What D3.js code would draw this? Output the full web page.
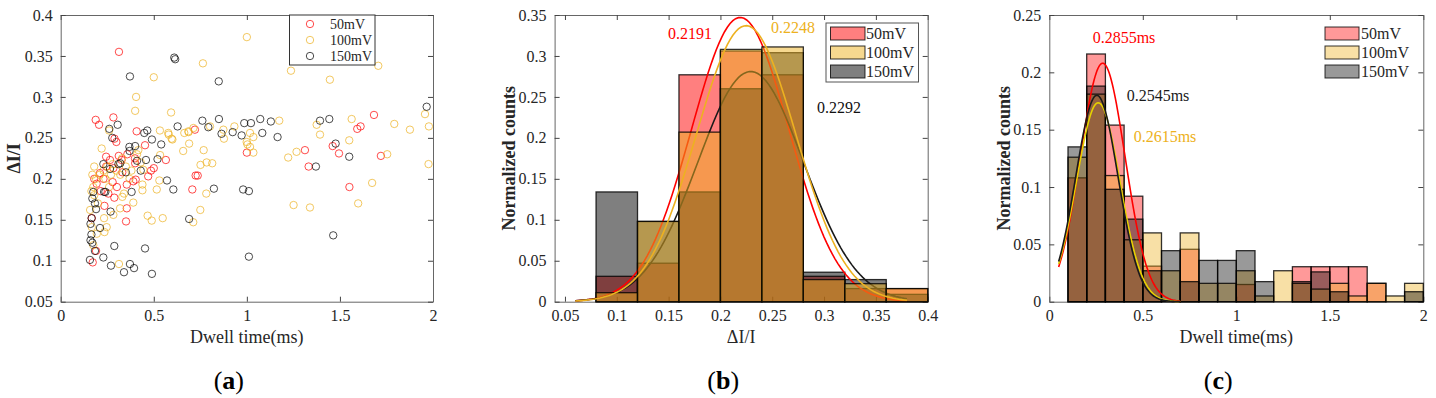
<!doctype html>
<html>
<head>
<meta charset="utf-8">
<script src="https://d3js.org/d3.v7.min.js"></script>
<style>
  body { margin: 0; background: #fff; }
  svg, svg text { font-family: "Liberation Serif", "Times New Roman", serif; }
  .tick text { fill: #262626; font-size: 16px; }
  .tick line { stroke: #444; }
  .domain { stroke: #666; }
</style>
</head>
<body>
<script>
// ---------- panel (a): scatter, [dwell time ms, dI/I] ----------
var scat50 = [[0.313,0.355],[0.188,0.272],[0.206,0.266],[0.283,0.275],[0.289,0.249],[0.299,0.245],[0.408,0.258],[0.453,0.241],
  [0.399,0.225],[0.327,0.223],[0.485,0.210],[0.500,0.213],[0.565,0.223],[0.470,0.203],[0.390,0.197],[0.725,0.204],[0.721,0.260],
  [0.736,0.204],[0.707,0.187],[1.000,0.232],[1.312,0.235],[1.332,0.215],[1.461,0.240],[1.495,0.231],[1.593,0.261],[1.611,0.264],
  [1.683,0.278],[1.720,0.228],[1.551,0.190],[0.256,0.182],[0.288,0.177],[0.235,0.167],[0.355,0.164],[0.351,0.148],[0.355,0.193],
  [0.190,0.112],[0.172,0.098],[0.167,0.152],[0.211,0.207],[0.244,0.227],[0.265,0.223],[0.312,0.228],[0.331,0.208],[0.403,0.199],
  [0.400,0.219],[0.358,0.230],[0.283,0.213],[0.279,0.196],[0.244,0.215],[0.193,0.194],[0.215,0.185],[0.302,0.190],[0.180,0.200],[0.230,0.200]];
var scat100 = [[1.000,0.373],[0.764,0.341],[1.237,0.332],[1.446,0.321],[1.706,0.338],[0.500,0.324],[0.405,0.300],[0.400,0.283],
  [0.593,0.281],[1.957,0.279],[1.978,0.264],[1.563,0.273],[1.792,0.267],[1.876,0.260],[1.375,0.266],[1.393,0.254],[1.174,0.271],
  [1.550,0.247],[1.754,0.230],[1.976,0.218],[1.673,0.195],[1.598,0.170],[1.339,0.165],[1.251,0.168],[1.267,0.233],[1.222,0.226],
  [0.768,0.235],[0.751,0.217],[0.784,0.220],[0.814,0.219],[0.782,0.182],[0.750,0.162],[0.712,0.147],[0.533,0.259],[0.580,0.254],
  [0.600,0.248],[0.687,0.257],[0.690,0.243],[0.658,0.234],[0.260,0.259],[0.220,0.237],[0.417,0.235],[0.534,0.229],[0.444,0.211],
  [0.530,0.198],[0.999,0.245],[1.003,0.242],[1.017,0.256],[1.035,0.251],[1.017,0.239],[1.035,0.232],[0.664,0.256],[0.686,0.258],
  [0.713,0.262],[0.877,0.249],[0.802,0.264],[0.874,0.260],[0.933,0.264],[0.596,0.249],[0.578,0.256],
  [0.170,0.205],[0.175,0.190],[0.165,0.185],[0.180,0.215],[0.190,0.200],[0.210,0.205],[0.230,0.210],[0.240,0.200],[0.250,0.215],
  [0.260,0.190],[0.270,0.205],[0.280,0.218],[0.300,0.210],[0.320,0.205],[0.330,0.225],[0.350,0.215],[0.370,0.200],[0.380,0.210],
  [0.410,0.230],[0.430,0.220],[0.340,0.182],[0.439,0.186],[0.439,0.193],[0.516,0.187],[0.467,0.155],[0.489,0.149],[0.548,0.152],
  [0.247,0.141],[0.235,0.135],[0.194,0.133],[0.167,0.141],[0.158,0.162],[0.233,0.152],[0.283,0.156],[0.319,0.164],[0.331,0.178],
  [0.390,0.171],[0.175,0.119],[0.313,0.096],[0.200,0.170],[0.180,0.180]];
var scat150 = [[0.610,0.348],[0.615,0.346],[0.372,0.325],[0.849,0.319],[1.966,0.288],[0.761,0.271],[0.850,0.273],[0.793,0.263],
  [0.864,0.255],[0.924,0.257],[0.972,0.253],[0.986,0.268],[1.022,0.268],[1.072,0.273],[1.129,0.270],[1.083,0.256],[1.165,0.251],
  [1.393,0.271],[1.443,0.273],[1.477,0.243],[1.550,0.227],[1.371,0.215],[1.464,0.131],[0.306,0.266],[0.261,0.261],[0.277,0.250],
  [0.465,0.259],[0.449,0.256],[0.490,0.248],[0.628,0.264],[0.540,0.242],[0.369,0.239],[0.370,0.234],[0.410,0.222],[0.458,0.223],
  [0.520,0.224],[0.229,0.218],[0.310,0.218],[0.320,0.219],[0.265,0.212],[0.571,0.198],[0.175,0.184],[0.233,0.184],[0.240,0.184],
  [0.381,0.184],[0.605,0.187],[0.170,0.176],[0.184,0.170],[0.190,0.163],[0.268,0.160],[0.690,0.151],[0.166,0.152],[0.211,0.140],
  [0.160,0.145],[0.165,0.132],[0.160,0.125],[0.170,0.122],[0.288,0.118],[0.453,0.115],[0.184,0.112],[0.157,0.101],[0.229,0.104],
  [0.270,0.094],[0.372,0.096],[0.394,0.091],[0.340,0.086],[0.490,0.084],[0.823,0.188],[0.980,0.187],[1.011,0.185],[1.011,0.105],
  [0.400,0.240],[0.430,0.210],[0.350,0.208]];

// ---------- panel (b): dI/I histograms ----------
var edgesB = [0.08, 0.12, 0.16, 0.20, 0.24, 0.28, 0.32, 0.36, 0.40];
var histB50  = [0.031, 0.047, 0.277, 0.306, 0.277, 0.031, 0.016, 0.016];
var histB100 = [0.011, 0.098, 0.207, 0.308, 0.311, 0.027, 0.022, 0.016];
var histB150 = [0.134, 0.098, 0.134, 0.260, 0.304, 0.036, 0.027, 0.009];
// gaussian fits: mean, sigma, peak height
var fitBMean  = [0.2191, 0.2248, 0.2292];
var fitBSigma = [0.047, 0.048, 0.051];
var fitBPeak  = [0.347, 0.337, 0.281];

// ---------- panel (c): dwell time histograms ----------
var edgesC = [0.1,0.2,0.3,0.4,0.5,0.6,0.7,0.8,0.9,1.0,1.1,1.2,1.3,1.4,1.5,1.6,1.7,1.8,1.9,2.0];
var histC50  = [0.108,0.216,0.154,0.092,0.031,0,0.0457,0,0,0.015,0,0,0.0305,0.0305,0.0305,0.0305,0.016,0,0];
var histC100 = [0.126,0.181,0.110,0.054,0.060,0.027,0.060,0.016,0.016,0.027,0.005,0.027,0.016,0.011,0.016,0.005,0.016,0.005,0.016];
var histC150 = [0.135,0.188,0.098,0.072,0.027,0.0445,0.0175,0.036,0.036,0.0445,0.0175,0,0.0175,0.026,0.0087,0,0,0,0.0087];
var fitCMean  = [0.2855, 0.2615, 0.2545];
var fitCSigma = [0.120, 0.116, 0.113];
var fitCPeak  = [0.208, 0.1735, 0.180];

var seriesNames = ["50mV", "100mV", "150mV"];
var ticksA_x = [0, 0.5, 1, 1.5, 2];
var ticksA_y = [0.05, 0.1, 0.15, 0.2, 0.25, 0.3, 0.35, 0.4];
var ticksB_x = [0.05, 0.1, 0.15, 0.2, 0.25, 0.3, 0.35, 0.4];
var ticksB_y = [0, 0.05, 0.1, 0.15, 0.2, 0.25, 0.3, 0.35];
var ticksC_x = [0, 0.5, 1, 1.5, 2];
var ticksC_y = [0, 0.05, 0.1, 0.15, 0.2, 0.25];

var fmt = d3.format("~g");
var serif = "Liberation Serif";
var top0 = 15, bot0 = 301.7;

var svg = d3.select("body").append("svg")
  .attr("width", 1436).attr("height", 398)
  .attr("font-family", serif);

// boxed MATLAB-style axes, ticks pointing inward
function makeAxes(left, right, xDom, yDom, xt, yt) {
  var x = d3.scaleLinear().domain(xDom).range([left, right]);
  var y = d3.scaleLinear().domain(yDom).range([bot0, top0]);
  var g = svg.append("g");
  g.append("g").attr("transform", "translate(0," + bot0 + ")")
    .call(d3.axisBottom(x).tickValues(xt).tickFormat(fmt).tickSizeInner(-5).tickSizeOuter(0).tickPadding(8));
  g.append("g").attr("transform", "translate(0," + top0 + ")")
    .call(d3.axisTop(x).tickValues(xt).tickFormat("").tickSizeInner(-5).tickSizeOuter(0));
  g.append("g").attr("transform", "translate(" + left + ",0)")
    .call(d3.axisLeft(y).tickValues(yt).tickFormat(fmt).tickSizeInner(-5).tickSizeOuter(0).tickPadding(8));
  g.append("g").attr("transform", "translate(" + right + ",0)")
    .call(d3.axisRight(y).tickValues(yt).tickFormat("").tickSizeInner(-5).tickSizeOuter(0));
  g.selectAll("g").attr("font-family", serif).attr("font-size", 16);
  g.selectAll(".tick text").attr("font-family", serif).attr("font-size", 16);
  return {x: x, y: y, g: g};
}

function labels(ax, xl, yl, ylx, tag) {
  var cx = (ax.x.range()[0] + ax.x.range()[1]) / 2;
  svg.append("text").attr("x", cx).attr("y", 343).attr("text-anchor", "middle")
    .attr("font-size", 18).attr("fill", "#262626").text(xl);
  svg.append("text").attr("transform", "translate(" + ylx + "," + (top0 + bot0) / 2 + ") rotate(-90)")
    .attr("text-anchor", "middle").attr("font-size", 18).attr("font-weight", "bold")
    .attr("fill", "#262626").text(yl);
  var t = svg.append("text").attr("x", cx - 18).attr("y", 389).attr("text-anchor", "middle")
    .attr("font-size", 26).attr("fill", "#000");
  t.append("tspan").text("(");
  t.append("tspan").attr("font-weight", "bold").text(tag);
  t.append("tspan").text(")");
}

function drawHist(ax, edges, vals, color, alpha) {
  var bins = vals.map(function (v, i) { return {x0: edges[i], x1: edges[i + 1], v: v}; })
    .filter(function (d) { return d.v > 0; });
  ax.g.append("g").selectAll("rect").data(bins).join("rect")
    .attr("x", function (d) { return ax.x(d.x0); })
    .attr("width", function (d) { return ax.x(d.x1) - ax.x(d.x0); })
    .attr("y", function (d) { return ax.y(d.v); })
    .attr("height", function (d) { return ax.y(0) - ax.y(d.v); })
    .attr("fill", color).attr("fill-opacity", alpha)
    .attr("stroke", "#000").attr("stroke-opacity", 0.8).attr("stroke-width", 1.3);
}

function drawFit(ax, mu, sd, peak, lo, hi, color) {
  var xs = d3.range(lo, hi + 1e-9, (hi - lo) / 120);
  var line = d3.line()
    .x(function (v) { return ax.x(v); })
    .y(function (v) { return ax.y(peak * Math.exp(-(v - mu) * (v - mu) / (2 * sd * sd))); });
  ax.g.append("path").datum(xs).attr("d", line)
    .attr("fill", "none").attr("stroke", color).attr("stroke-width", 1.6);
}

// ---------- (a) ----------
var axA = makeAxes(60.7, 433, [0, 2], [0.05, 0.4], ticksA_x, ticksA_y);
var scatColors = ["#ff0000", "#edb120", "#000000"];
[scat50, scat100, scat150].forEach(function (pts, i) {
  axA.g.append("g").selectAll("circle").data(pts).join("circle")
    .attr("cx", function (d) { return axA.x(d[0]); })
    .attr("cy", function (d) { return axA.y(d[1]); })
    .attr("r", 3.7).attr("fill", "none")
    .attr("stroke", scatColors[i]).attr("stroke-opacity", 0.7).attr("stroke-width", 1);
});
var legA = svg.append("g");
legA.append("rect").attr("x", 289.5).attr("y", 15).attr("width", 85.5).attr("height", 50)
  .attr("fill", "#fff").attr("stroke", "#333").attr("stroke-width", 1);
seriesNames.forEach(function (n, i) {
  legA.append("circle").attr("cx", 310).attr("cy", 24 + i * 16).attr("r", 3.7).attr("fill", "none")
    .attr("stroke", scatColors[i]).attr("stroke-opacity", 0.7);
  legA.append("text").attr("x", 330).attr("y", 29 + i * 16).attr("font-size", 14)
    .attr("fill", "#262626").text(n);
});
labels(axA, "Dwell time(ms)", "\u0394I/I", 20, "a");

// ---------- (b) ----------
var axB = makeAxes(554.6, 927.7, [0.04, 0.4], [0, 0.35], ticksB_x, ticksB_y);
drawHist(axB, edgesB, histB50, "#ff0000", 0.5);
drawHist(axB, edgesB, histB150, "#000000", 0.5);
drawFit(axB, fitBMean[0], fitBSigma[0], fitBPeak[0], 0.06, 0.38, "#ff0000");
drawFit(axB, fitBMean[2], fitBSigma[2], fitBPeak[2], 0.06, 0.38, "#1a1a1a");
drawHist(axB, edgesB, histB100, "#edb120", 0.5);
drawFit(axB, fitBMean[1], fitBSigma[1], fitBPeak[1], 0.06, 0.38, "#edb120");
svg.append("text").attr("x", 690).attr("y", 39).attr("text-anchor", "middle").attr("font-size", 16)
  .attr("fill", "#ff0000").text(fitBMean[0].toFixed(4));
svg.append("text").attr("x", 793).attr("y", 33).attr("text-anchor", "middle").attr("font-size", 16)
  .attr("fill", "#edb120").text(fitBMean[1].toFixed(4));
svg.append("text").attr("x", 839).attr("y", 113).attr("text-anchor", "middle").attr("font-size", 16)
  .attr("fill", "#111").text(fitBMean[2].toFixed(4));
var legB = svg.append("g");
legB.append("rect").attr("x", 826).attr("y", 23).attr("width", 92.5).attr("height", 59)
  .attr("fill", "#fff").attr("stroke", "#555").attr("stroke-width", 1);
var histColB = ["#ff0000", "#edb120", "#000000"];
seriesNames.forEach(function (n, i) {
  legB.append("rect").attr("x", 830.5).attr("y", 27 + i * 19).attr("width", 34.5).attr("height", 13)
    .attr("fill", histColB[i]).attr("fill-opacity", 0.5).attr("stroke", "#000").attr("stroke-opacity", 0.8);
  legB.append("text").attr("x", 866).attr("y", 39 + i * 19).attr("font-size", 16)
    .attr("fill", "#262626").text(n);
});
labels(axB, "\u0394I/I", "Normalized counts", 515, "b");

// ---------- (c) ----------
var axC = makeAxes(1049.3, 1423.3, [0, 2], [0, 0.25], ticksC_x, ticksC_y);
drawHist(axC, edgesC, histC50, "#ff0000", 0.4);
drawHist(axC, edgesC, histC100, "#edb120", 0.4);
drawHist(axC, edgesC, histC150, "#000000", 0.4);
drawFit(axC, fitCMean[0], fitCSigma[0], fitCPeak[0], 0.05, 0.7, "#ff0000");
drawFit(axC, fitCMean[1], fitCSigma[1], fitCPeak[1], 0.05, 0.7, "#e6d200");
drawFit(axC, fitCMean[2], fitCSigma[2], fitCPeak[2], 0.05, 0.7, "#1a1a1a");
svg.append("text").attr("x", 1124).attr("y", 43).attr("text-anchor", "middle").attr("font-size", 16)
  .attr("fill", "#ff0000").text(fitCMean[0].toFixed(4) + "ms");
svg.append("text").attr("x", 1158).attr("y", 101).attr("text-anchor", "middle").attr("font-size", 16)
  .attr("fill", "#1a1a1a").text(fitCMean[2].toFixed(4) + "ms");
svg.append("text").attr("x", 1165).attr("y", 142).attr("text-anchor", "middle").attr("font-size", 16)
  .attr("fill", "#edb120").text(fitCMean[1].toFixed(4) + "ms");
var legC = svg.append("g");
seriesNames.forEach(function (n, i) {
  legC.append("rect").attr("x", 1325).attr("y", 27 + i * 19).attr("width", 34).attr("height", 13)
    .attr("fill", histColB[i]).attr("fill-opacity", 0.4).attr("stroke", "#000").attr("stroke-opacity", 0.8);
  legC.append("text").attr("x", 1361).attr("y", 39 + i * 19).attr("font-size", 16)
    .attr("fill", "#262626").text(n);
});
labels(axC, "Dwell time(ms)", "Normalized counts", 1010, "c");
</script>
</body>
</html>
